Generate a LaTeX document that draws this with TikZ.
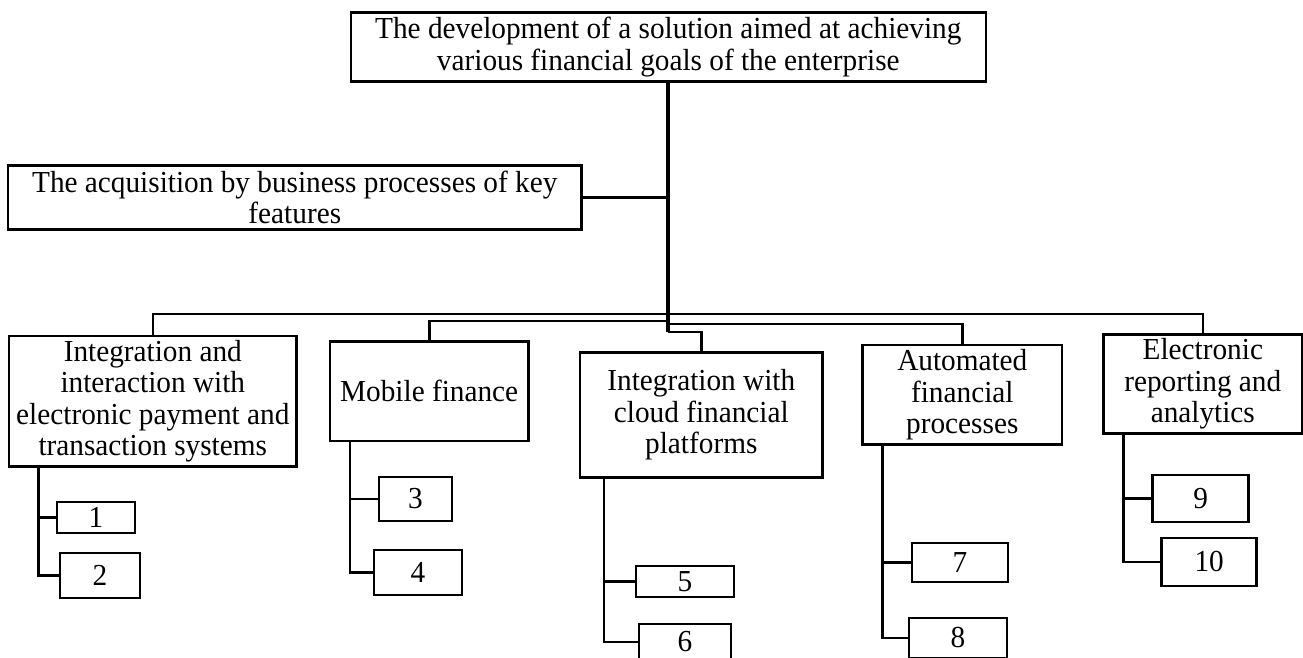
\documentclass[tikz,border=0pt]{standalone}
\usepackage{fontspec}
\setmainfont{Liberation Serif}[FakeStretch=0.96]
\tikzset{
  box/.style={draw, line width=2.6pt, inner sep=0pt, align=center,
    font=\fontsize{30.5}{31.5}\selectfont},
  conn/.style={line width=2.6pt},
  trunk/.style={line width=3.8pt},
}
\begin{document}
\begin{tikzpicture}[x=1pt,y=-1pt]
\useasboundingbox (0,0) rectangle (1303,658);
% main boxes
\node[box, minimum width=635pt, minimum height=69pt] (top) at (668.3,47.2)
  {The development of a solution aimed at achieving\\various financial goals of the enterprise};
\node[box, minimum width=573.7pt, minimum height=63.6pt] (acq) at (294.8,197.5)
  {The acquisition by business processes of key\\features};
\node[box, minimum width=287.7pt, minimum height=130.7pt] (b1) at (152.8,401.3)
  {Integration and\\interaction with\\electronic payment and\\transaction systems};
\node[box, minimum width=198.3pt, minimum height=99.3pt] (b2) at (429.2,391.3)
  {Mobile finance};
\node[box, minimum width=242.7pt, minimum height=124.6pt] (b3) at (701.3,415)
  {Integration with\\cloud financial\\platforms};
\node[box, minimum width=199.3pt, minimum height=99.3pt] (b4) at (962.3,394.7)
  {Automated\\financial\\processes};
\node[box, minimum width=199pt, minimum height=99pt] (b5) at (1202.8,383.8)
  {Electronic\\reporting and\\analytics};
% small boxes
\node[box, minimum width=78pt, minimum height=31pt] (n1) at (96,517.3) {1};
\node[box, minimum width=80pt, minimum height=45pt] (n2) at (100,575.3) {2};
\node[box, minimum width=73pt, minimum height=44pt] (n3) at (415.5,498.8) {3};
\node[box, minimum width=88pt, minimum height=45pt] (n4) at (418,572.5) {4};
\node[box, minimum width=98pt, minimum height=31pt] (n5) at (685,581.5) {5};
\node[box, minimum width=92pt, minimum height=36pt] (n6) at (685,642) {6};
\node[box, minimum width=96pt, minimum height=39pt] (n7) at (960,562.3) {7};
\node[box, minimum width=98pt, minimum height=40pt] (n8) at (958,638) {8};
\node[box, minimum width=96pt, minimum height=47pt] (n9) at (1200.7,498.5) {9};
\node[box, minimum width=95pt, minimum height=48pt] (n10) at (1209.2,561.9) {10};
% junctions
\coordinate (j1) at (668.3,314);
\coordinate (j2l) at (668.3,321);
\coordinate (j2r) at (668.3,324);
\coordinate (tb) at (668.3,332);
\coordinate (s1) at (38.3,466.7);
\coordinate (s2) at (350,441);
\coordinate (s3) at (604,477.3);
\coordinate (s4) at (882.7,444.3);
\coordinate (s5) at (1123.3,433.3);
% connectors
\draw[trunk] (top.south) -- (tb);
\draw[conn] (tb) -| (b3.north);
\draw[conn] (acq.east) -- (acq.east -| top.south);
\draw[conn] (b1.north) |- (j1) -| (b5.north);
\draw[conn] (b2.north) |- (j2l);
\draw[conn] (j2r) -| (b4.north);
\draw[conn] (s1) |- (n2.west);
\draw[conn] (s1 |- n1.west) -- (n1.west);
\draw[conn] (s2) |- (n4.west);
\draw[conn] (s2 |- n3.west) -- (n3.west);
\draw[conn] (s3) |- (n6.west);
\draw[conn] (s3 |- n5.west) -- (n5.west);
\draw[conn] (s4) |- (n8.west);
\draw[conn] (s4 |- n7.west) -- (n7.west);
\draw[conn] (s5) |- (n10.west);
\draw[conn] (s5 |- n9.west) -- (n9.west);
\end{tikzpicture}
\end{document}
